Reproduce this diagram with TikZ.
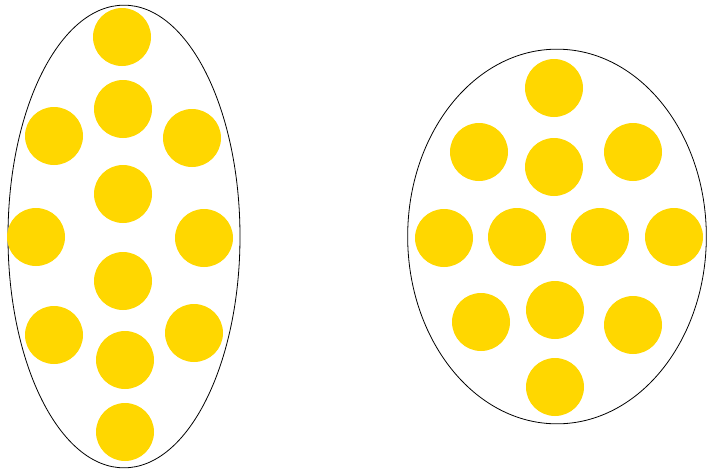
\documentclass[tikz,border=0pt]{standalone}
\usepackage{tikz}
\usetikzlibrary{shapes.geometric}
\definecolor{gold}{HTML}{FFD700}

\begin{document}
\begin{tikzpicture}[
    x=0.75pt,y=-0.75pt,
    blob/.style={circle,fill=gold,minimum size=43.5pt,inner sep=0pt},
    bag/.style={ellipse,draw=black,line width=0.6pt,inner sep=0pt}
]
    \useasboundingbox (0,0) rectangle (707,471);

    % the two sets
    \node[bag,minimum width=174pt,minimum height=347pt] (setA) at (124,236.5) {};
    \node[bag,minimum width=224pt,minimum height=281pt] (setB) at (557,236.5) {};

    % elements of the left set
    \foreach \px/\py [count=\i] in {122/37,123/109,54/136,192/138,123/194,36/237,204/238,123/281,54/335,194/333,125/360,125/432}
        \node[blob] (a\i) at (\px,\py) {};

    % elements of the right set
    \foreach \px/\py [count=\i] in {554/88,479/152,554/167,633/152,444/238,517/237,600/237,674/237,481/322,555/310,633/325,555/387}
        \node[blob] (b\i) at (\px,\py) {};
\end{tikzpicture}
\end{document}
